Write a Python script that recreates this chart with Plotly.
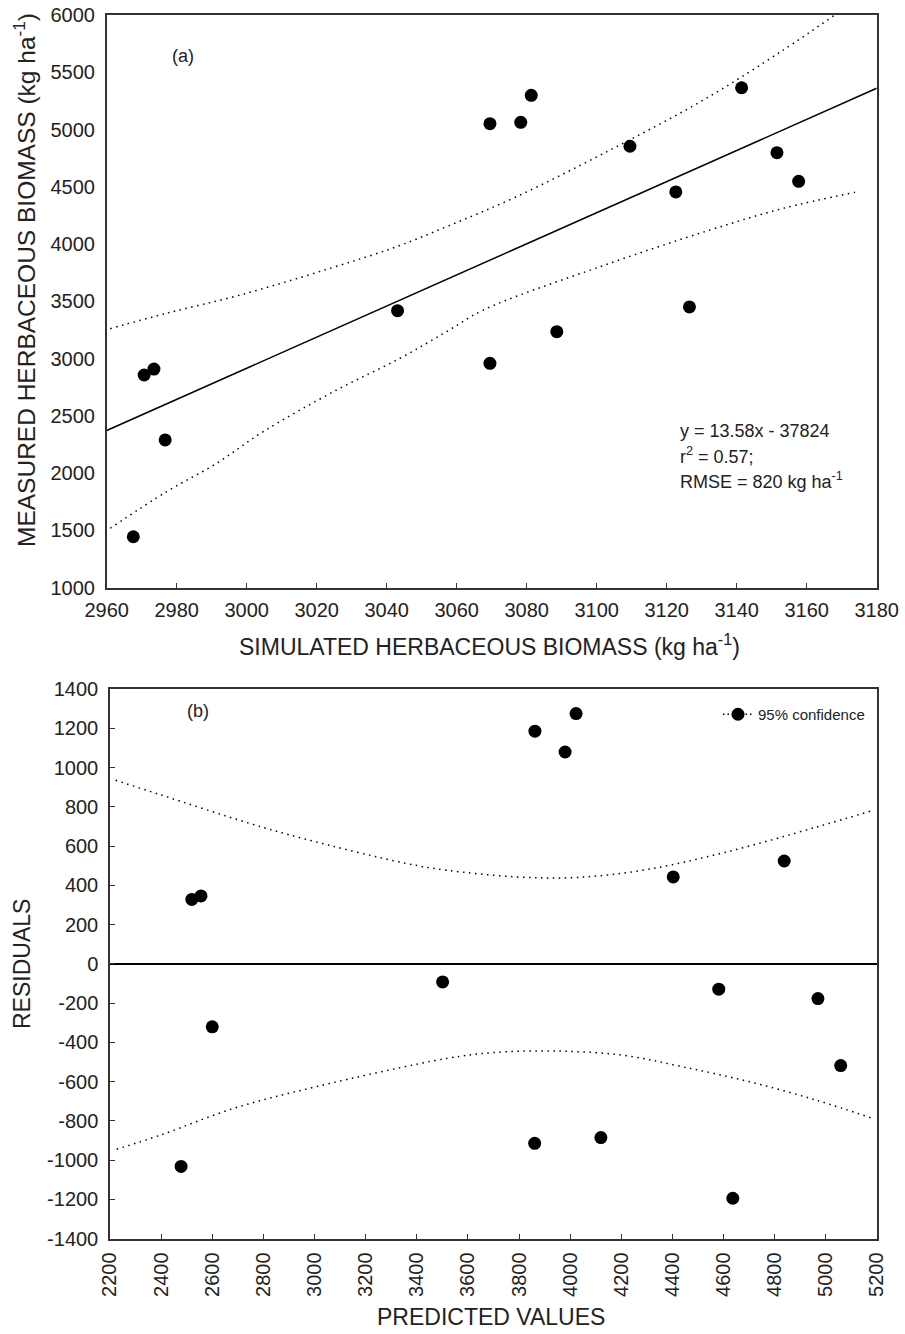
import plotly.graph_objects as go

# ---- data -------------------------------------------------------------
# (a) simulated vs measured herbaceous biomass (kg ha-1)
simulated = [2967.6, 2970.7, 2973.5, 2976.7, 3043.1, 3069.5, 3069.5, 3078.3,
             3081.3, 3088.6, 3109.5, 3122.6, 3126.5, 3141.4, 3151.5, 3157.7]
measured = [1445, 2857, 2909, 2290, 3419, 2959, 5051, 5063,
            5299, 3235, 4854, 4455, 3451, 5365, 4798, 4548]

# fitted line y = 13.58x - 37824
slope = 13.58
intercept = -37824
line_x = [2960, 3180]

# 95% confidence band of the fit
band_up_x = [2961, 2977.1, 2998.1, 3023.8, 3042.8, 3057.1, 3077.1, 3103.8, 3130.5, 3153.3, 3168]
band_up_y = [3262, 3396, 3555, 3788, 3977, 4152, 4414, 4821, 5258, 5694, 6000]
band_lo_x = [2961, 2977.1, 2991.4, 3004.7, 3025.7, 3043.8, 3057.1, 3067.6, 3101, 3132.4, 3153.3, 3173.8]
band_lo_y = [1519, 1838, 2086, 2362, 2726, 3003, 3235, 3424, 3803, 4123, 4312, 4452]

# (b) residuals vs predicted values
predicted = [2478, 2520, 2556, 2600, 3501, 3861, 3862, 3980,
             4023, 4120, 4403, 4581, 4636, 4837, 4969, 5058]
residuals = [-1032, 328, 346, -321, -92, -914, 1185, 1079,
             1275, -885, 443, -129, -1194, 524, -177, -518]

res_up_x = [2222, 2395.6, 2747.6, 2956, 3360.5, 3517, 3790.7, 4025, 4299, 4612, 4964, 5185]
res_up_y = [935, 862, 715, 638, 511, 477, 443, 440, 480, 570, 697, 782]
res_lo_x = [2226, 2395.6, 2682, 3002, 3517, 3699, 3947, 4208, 4442, 4703, 4964, 5185]
res_lo_y = [-944, -873, -737, -627, -482, -452, -444, -466, -525, -601, -695, -788]

x1_ticks = list(range(2960, 3181, 20))
y1_ticks = list(range(1000, 6001, 500))
x2_ticks = list(range(2200, 5201, 200))
y2_ticks = list(range(-1400, 1401, 200))
y2_labels = [str(v) for v in y2_ticks]  # plain hyphen for negatives

# ---- layout helpers ---------------------------------------------------
W, H = 905, 1334
FONT = "Liberation Sans, Arial, sans-serif"
TXT = "#222222"


def px(x):
    return x / W


def py(y):
    return (H - y) / H


dot_line = dict(color="black", width=1.5, dash="1.5px,4.5px")
marker = dict(color="black", size=13, symbol="circle")

fig = go.Figure()

# (a)
fig.add_trace(go.Scatter(x=line_x, y=[slope * v + intercept for v in line_x],
                         mode="lines", line=dict(color="black", width=1.5),
                         xaxis="x", yaxis="y", showlegend=False))
fig.add_trace(go.Scatter(x=band_up_x, y=band_up_y, mode="lines", line=dot_line,
                         line_shape="spline", xaxis="x", yaxis="y", showlegend=False))
fig.add_trace(go.Scatter(x=band_lo_x, y=band_lo_y, mode="lines", line=dot_line,
                         line_shape="spline", xaxis="x", yaxis="y", showlegend=False))
fig.add_trace(go.Scatter(x=simulated, y=measured, mode="markers", marker=marker,
                         xaxis="x", yaxis="y", showlegend=False))

# (b)
fig.add_trace(go.Scatter(x=res_up_x, y=res_up_y, mode="lines", line=dot_line,
                         line_shape="spline", xaxis="x2", yaxis="y2", showlegend=False))
fig.add_trace(go.Scatter(x=res_lo_x, y=res_lo_y, mode="lines", line=dot_line,
                         line_shape="spline", xaxis="x2", yaxis="y2", showlegend=False))
fig.add_trace(go.Scatter(x=predicted, y=residuals, mode="markers", marker=marker,
                         xaxis="x2", yaxis="y2", showlegend=False))
# legend key for the confidence band
fig.add_trace(go.Scatter(x=[None], y=[None], mode="lines+markers", name="95% confidence",
                         line=dict(color="black", width=1.5, dash="1.5px,3px"),
                         marker=dict(color="black", size=13),
                         xaxis="x2", yaxis="y2", showlegend=True))

axis_common = dict(showgrid=False, showline=True, linecolor="#333333", linewidth=1.5,
                   mirror=True, tickfont=dict(family=FONT, size=20, color=TXT),
                   automargin=False, zeroline=False)

fig.update_layout(
    width=W, height=H,
    margin=dict(l=0, r=0, t=0, b=0),
    paper_bgcolor="white", plot_bgcolor="white",
    font=dict(family=FONT, color=TXT),
    xaxis=dict(domain=[px(106.7), px(876.7)], anchor="y", range=[2960, 3180],
               tickvals=x1_ticks, ticks="inside", ticklen=5, tickwidth=1.2,
               tickcolor="#333333", ticklabelstandoff=4, **axis_common),
    yaxis=dict(domain=[py(587.7), py(15)], anchor="x", range=[1000, 6000],
               tickvals=y1_ticks, ticks="", ticklabelstandoff=6, **axis_common),
    xaxis2=dict(domain=[px(110), px(877)], anchor="y2", range=[2200, 5200],
                tickvals=x2_ticks, ticks="inside", ticklen=5, tickwidth=1.2,
                tickcolor="#333333", tickangle=-90, ticklabelstandoff=4, **axis_common),
    yaxis2=dict(domain=[py(1238.7), py(689)], anchor="x2", range=[-1400, 1400],
                tickvals=y2_ticks, ticktext=y2_labels, ticks="inside", ticklen=5,
                tickwidth=1.2, tickcolor="#333333", ticklabelstandoff=6, **axis_common),
    legend=dict(x=px(870), y=py(698), xanchor="right", yanchor="top",
                bgcolor="rgba(0,0,0,0)", font=dict(family=FONT, size=15, color=TXT),
                itemwidth=30, tracegroupgap=0),
    showlegend=True,
)

fig.update_yaxes(zeroline=True, zerolinecolor="black", zerolinewidth=1.5, selector=dict(anchor="x2"))

ann = []


def add_text(x, y, text, size, angle=0, xanchor="center"):
    ann.append(dict(x=px(x), y=py(y), xref="paper", yref="paper", text=text,
                    showarrow=False, textangle=angle, xanchor=xanchor, yanchor="middle",
                    font=dict(family=FONT, size=size, color=TXT)))


add_text(183, 56, "(a)", 18)
add_text(198, 711, "(b)", 18)
add_text(678, 431, "y = 13.58x - 37824", 18, xanchor="left")
add_text(678, 456, "r<sup>2</sup> = 0.57;", 18, xanchor="left")
add_text(678, 481, "RMSE = 820 kg ha<sup>-1</sup>", 18, xanchor="left")
add_text(24, 280, "MEASURED HERBACEOUS BIOMASS (kg ha<sup>-1</sup>)", 24.5, angle=-90)
add_text(490, 645, "SIMULATED HERBACEOUS BIOMASS (kg ha<sup>-1</sup>)", 23)
add_text(22, 964, "RESIDUALS", 23, angle=-90)
add_text(491, 1317, "PREDICTED VALUES", 23)

fig.update_layout(annotations=ann)

fig.write_html("out.html")
